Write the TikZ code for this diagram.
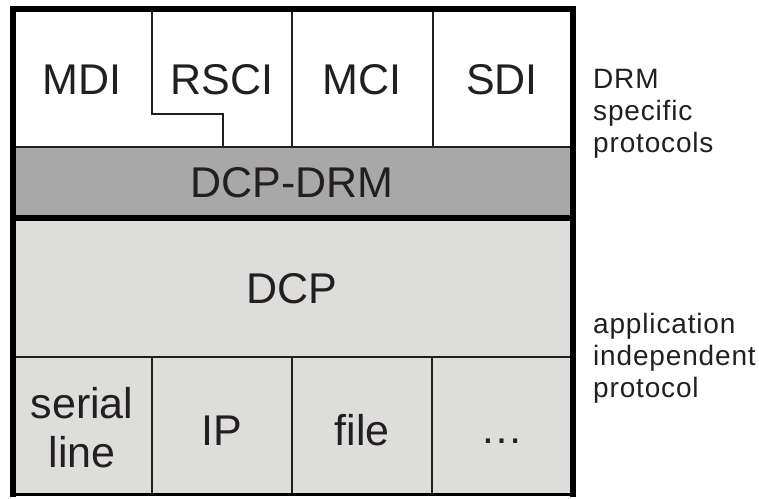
\documentclass[tikz,border=0pt]{standalone}
\usepackage{fontspec}
\setmainfont{Liberation Sans}
\newfontfamily\sidefont[LetterSpace=3]{Liberation Sans}
\definecolor{drmgray}{HTML}{A8A8A8}
\definecolor{dcpgray}{HTML}{DDDDDC}
\definecolor{ink}{HTML}{231F20}
\begin{document}
\begin{tikzpicture}[x=1pt,y=-1pt,
  big/.style={font=\fontsize{43}{49}\selectfont, text=ink, inner sep=0pt, anchor=base, align=center},
  side/.style={font=\sidefont\fontsize{28}{32}\selectfont, text=ink, inner sep=0pt, anchor=base west, align=left},
  thin/.style={draw=ink, line width=2pt},
  heavy/.style={draw=black, line width=6pt}]
\useasboundingbox (0,0) rectangle (759,498);

% background fills of the three layers
\fill[white]    (13,9)   rectangle (573,147);
\fill[drmgray]  (13,147) rectangle (573,218);
\fill[dcpgray]  (13,218) rectangle (573,494);

% DRM specific protocols: cell borders
\draw[thin] (13,147) -- (573,147);
\draw[thin] (292,9) -- (292,147);
\draw[thin] (433,9) -- (433,147);
\draw[thin] (152,9) -- (152,114) -- (223,114) -- (223,147);

% application independent protocol: cell borders
\draw[thin] (13,357) -- (573,357);
\draw[thin] (152,357) -- (152,494);
\draw[thin] (292,357) -- (292,494);
\draw[thin] (432,357) -- (432,494);

% outer frames
\draw[heavy, line cap=rect] (13,218) -- (13,494);
\draw[heavy, line cap=rect] (573,218) -- (573,494);
\draw[draw=black, line width=3pt] (13,494) -- (573,494);
\draw[heavy] (13,9) rectangle (573,218);

% labels (multi-line nodes sit on the baseline of their last line)
\node[big] (mdi)  at (82,94)  {MDI};
\node[big] (rsci) at (222,94) {RSCI};
\node[big] (mci)  at (362,94) {MCI};
\node[big] (sdi)  at (502,94) {SDI};
\node[big] (dcpdrm) at (292,197) {DCP-DRM};
\node[big] (dcp)  at (292,303) {DCP};
\node[big] (serial) at (82,467) {serial\\line};
\node[big] (ip)   at (222,445) {IP};
\node[big] (file) at (362,445) {file};
\node[big] (more) at (502,443) {\ldots};

\node[side] (drm) at (593,152) {DRM\\specific\\protocols};
\node[side] (app) at (593,397) {application\\independent\\protocol};
\end{tikzpicture}
\end{document}
